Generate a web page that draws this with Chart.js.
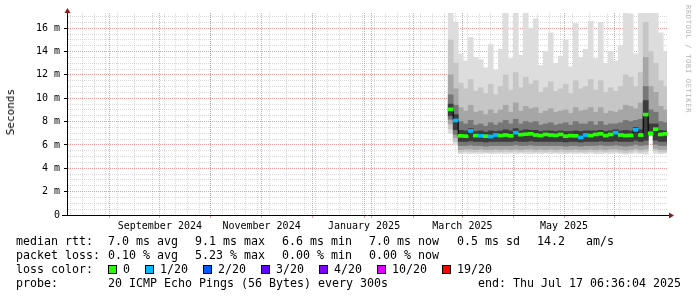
<!DOCTYPE html>
<html>
<head>
<meta charset="utf-8">
<script src="https://cdn.jsdelivr.net/npm/chart.js@4/dist/chart.umd.min.js"></script>
<style>
  html, body { margin: 0; padding: 0; background: #fff; }
  #wrap { position: relative; width: 697px; height: 297px; overflow: hidden; font-family: "DejaVu Sans Mono", monospace; }
  #graph { position: absolute; left: 0; top: 0; }
  .t { position: absolute; white-space: pre; font-size: 11.63px; line-height: 14px; color: #000; }
  .row { position: absolute; left: 108px; height: 14px; display: flex; align-items: center; }
  .box { width: 7px; height: 7px; border: 1px solid #000; margin-right: 6px; }
  .lab { font-size: 11.63px; line-height: 14px; margin-right: 15px; white-space: pre; }
  #ylab { position: absolute; left: 4px; top: 89px; writing-mode: vertical-rl; transform: rotate(180deg); font-size: 11px; line-height: 13px; }
  #mark { position: absolute; left: 684px; top: 5px; writing-mode: vertical-rl; font-size: 7px; line-height: 8px; letter-spacing: 0.7px; color: #b4b4b4; }
</style>
</head>
<body>
<div id="wrap">
  <canvas id="graph" width="697" height="297"></canvas>
  <div id="ylab">Seconds</div>
  <div id="mark">RRDTOOL / TOBI OETIKER</div>
  <div id="legend"></div>
</div>
<script>
// one column every 3 days, from the start of the data to the end of the graph
const dates = [
  '2025-03-09','2025-03-12','2025-03-15','2025-03-18','2025-03-21','2025-03-24','2025-03-27','2025-03-30',
  '2025-04-02','2025-04-05','2025-04-08','2025-04-11','2025-04-14','2025-04-17','2025-04-20','2025-04-23','2025-04-26','2025-04-29',
  '2025-05-02','2025-05-05','2025-05-08','2025-05-11','2025-05-14','2025-05-17','2025-05-20','2025-05-23','2025-05-26','2025-05-29',
  '2025-06-01','2025-06-04','2025-06-07','2025-06-10','2025-06-13','2025-06-16','2025-06-19','2025-06-22','2025-06-25','2025-06-28',
  '2025-07-01','2025-07-04','2025-07-07','2025-07-10','2025-07-13','2025-07-16'
];

// median rtt in ms
const median = [
  9.05, 8.1, 6.78, 6.75, 7.2, 6.8, 6.78, 6.75, 6.72, 6.85,
  6.8, 6.85, 6.78, 7.05, 6.88, 6.92, 6.95, 6.85, 6.8, 6.9,
  6.85, 6.82, 6.9, 6.75, 6.8, 6.78, 6.65, 6.85, 6.8, 6.9,
  6.95, 6.8, 6.9, 7.05, 6.85, 6.8, 6.82, 7.3, 6.85, 8.6,
  7.0, 7.35, 6.9, 6.95
];

// lost pings out of 20
const loss = [
  0, 1, 0, 0, 1, 0, 1, 0, 1, 1,
  0, 0, 0, 1, 0, 0, 0, 0, 0, 0,
  0, 0, 0, 0, 0, 0, 1, 1, 0, 0,
  0, 0, 0, 1, 0, 0, 0, 1, 0, 0,
  0, 0, 0, 0
];

// smoke: upper and lower edges of the ping spread, outermost first (ms)
const smokeHi1 = [
  17.5, 16.5, 13.8, 13.2, 15.2, 13.5, 13.3, 12.6, 14.6, 12.4,
  14.2, 17.5, 13.4, 17.5, 13.7, 17.5, 16.0, 16.8, 12.8, 14.0,
  15.6, 13.0, 13.6, 15.0, 12.7, 16.4, 13.5, 14.2, 16.6, 13.4,
  16.5, 13.0, 14.0, 13.2, 14.5, 17.5, 17.2, 13.8, 17.5, 17.5,
  17.5, 17.5, 15.6, 14.0
];
const smokeHi2 = [
  15.0, 13.0, 11.3, 10.8, 11.6, 10.6, 10.9, 10.4, 11.2, 10.3,
  11.0, 12.0, 10.7, 12.2, 10.9, 11.8, 11.2, 11.5, 10.5, 10.9,
  11.4, 10.6, 10.8, 11.2, 10.4, 11.5, 10.8, 11.0, 11.6, 10.7,
  11.5, 10.5, 10.9, 10.6, 11.0, 12.0, 11.8, 11.0, 12.2, 16.5,
  14.0, 13.0, 11.5, 11.0
];
const smokeHi3 = [
  12.0, 10.8, 9.2, 8.9, 9.4, 8.8, 8.9, 8.6, 9.0, 8.7,
  9.0, 9.4, 8.8, 9.6, 8.9, 9.3, 9.1, 9.2, 8.7, 8.9,
  9.1, 8.8, 8.9, 9.0, 8.7, 9.2, 8.9, 9.0, 9.2, 8.8,
  9.2, 8.7, 8.9, 8.8, 9.0, 9.4, 9.3, 9.1, 9.6, 13.5,
  11.0, 10.5, 9.3, 9.0
];
const smokeHi4 = [
  10.3, 9.4, 8.0, 7.8, 8.1, 7.7, 7.8, 7.6, 7.9, 7.7,
  7.9, 8.1, 7.8, 8.2, 7.8, 8.0, 7.9, 8.0, 7.7, 7.8,
  7.9, 7.7, 7.8, 7.9, 7.7, 8.0, 7.8, 7.8, 8.0, 7.7,
  8.0, 7.7, 7.8, 7.8, 7.9, 8.1, 8.0, 8.1, 8.2, 11.0,
  9.0, 8.8, 8.0, 7.9
];
const smokeHi5 = [
  9.5, 8.6, 7.25, 7.2, 7.4, 7.15, 7.2, 7.1, 7.2, 7.15,
  7.2, 7.3, 7.2, 7.4, 7.2, 7.3, 7.25, 7.25, 7.15, 7.2,
  7.2, 7.15, 7.2, 7.15, 7.15, 7.2, 7.15, 7.2, 7.2, 7.2,
  7.25, 7.15, 7.2, 7.3, 7.2, 7.25, 7.2, 7.5, 7.3, 9.8,
  7.8, 7.8, 7.25, 7.2
];
const smokeLo5 = [
  8.5, 7.3, 6.3, 6.3, 6.35, 6.3, 6.3, 6.25, 6.3, 6.3,
  6.3, 6.3, 6.3, 6.35, 6.3, 6.3, 6.35, 6.3, 6.3, 6.3,
  6.3, 6.3, 6.3, 6.25, 6.3, 6.3, 6.25, 6.3, 6.3, 6.3,
  6.35, 6.3, 6.3, 6.35, 6.3, 6.3, 6.3, 6.4, 6.3, 6.4,
  6.95, 6.4, 6.3, 6.3
];
const smokeLo4 = [
  8.2, 6.9, 5.95, 5.95, 6.0, 5.95, 5.95, 5.9, 5.95, 5.95,
  5.95, 5.95, 5.95, 6.0, 5.95, 5.95, 6.0, 5.95, 5.95, 5.95,
  5.95, 5.95, 5.95, 5.9, 5.95, 5.95, 5.9, 5.95, 5.95, 5.95,
  6.0, 5.95, 5.95, 6.0, 5.95, 5.9, 5.95, 6.05, 5.95, 6.0,
  6.9, 6.05, 5.95, 5.95
];
const smokeLo3 = [
  7.8, 6.6, 5.6, 5.65, 5.65, 5.6, 5.65, 5.6, 5.6, 5.65,
  5.6, 5.65, 5.6, 5.65, 5.6, 5.65, 5.65, 5.6, 5.65, 5.6,
  5.65, 5.6, 5.65, 5.6, 5.6, 5.65, 5.6, 5.6, 5.65, 5.6,
  5.65, 5.6, 5.65, 5.65, 5.6, 5.55, 5.6, 5.7, 5.6, 5.65,
  6.85, 5.7, 5.6, 5.6
];
const smokeLo2 = [
  7.4, 6.3, 5.4, 5.45, 5.45, 5.4, 5.45, 5.4, 5.4, 5.45,
  5.4, 5.45, 5.4, 5.45, 5.4, 5.45, 5.45, 5.4, 5.45, 5.4,
  5.45, 5.4, 5.45, 5.4, 5.4, 5.45, 5.4, 5.4, 5.45, 5.4,
  5.45, 5.4, 5.45, 5.45, 5.4, 5.35, 5.4, 5.5, 5.4, 5.45,
  6.8, 5.5, 5.4, 5.4
];
const smokeLo1 = [
  7.0, 6.0, 5.25, 5.3, 5.25, 5.3, 5.25, 5.3, 5.25, 5.25,
  5.3, 5.25, 5.3, 5.25, 5.3, 5.25, 5.25, 5.3, 5.25, 5.3,
  5.25, 5.3, 5.25, 5.25, 5.3, 5.25, 5.3, 5.25, 5.3, 5.25,
  5.25, 5.3, 5.25, 5.3, 5.25, 5.2, 5.25, 5.3, 5.25, 5.2,
  6.75, 5.3, 5.25, 5.3
];

const monthLabels = ['September 2024', 'November 2024', 'January 2025', 'March 2025', 'May 2025'];
const labelMonths = [[2024, 8], [2024, 10], [2025, 0], [2025, 2], [2025, 4]];

const lossLabels = ['0', '1/20', '2/20', '3/20', '4/20', '10/20', '19/20'];
const lossSteps = [0, 1, 2, 3, 4, 10, 19];
const lossColors = ['#26ff00', '#00b8ff', '#0059ff', '#5e00ff', '#7e00ff', '#dd00ff', '#ff0000'];

const rttStats = ['7.0 ms avg', '9.1 ms max', '6.6 ms min', '7.0 ms now', '0.5 ms sd', '14.2   am/s'];
const lossStats = ['0.10 % avg', '5.23 % max', '0.00 % min', '0.00 % now'];

// time axis in days since the left edge of the graph (360 days shown)
const DAY = 86400000;
const graphEnd = Date.UTC(2025, 6, 17, 6, 36, 4);
const graphStart = graphEnd - 360 * DAY;
const toDay = ms => (ms - graphStart) / DAY;
const xs = dates.map(d => toDay(Date.parse(d + 'T12:00:00Z')));

// x ticks: weekly minor lines, monthly major lines, labels in mid-month
const xTicks = [];
const monthStarts = [];
for (let k = 0; k < 12; k++) monthStarts.push(toDay(Date.UTC(2024, 7 + k, 1)));
for (let t = Date.UTC(2024, 6, 28); t < graphEnd; t += 7 * DAY) {
  const d = toDay(t);
  if (!monthStarts.some(m => Math.abs(m - d) < 0.01)) xTicks.push({ v: d, kind: 'week', label: '' });
}
monthStarts.forEach(d => xTicks.push({ v: d, kind: 'month', label: '' }));
labelMonths.forEach(([y, m], i) => {
  const mid = (toDay(Date.UTC(y, m, 1)) + toDay(Date.UTC(y, m + 1, 1))) / 2;
  xTicks.push({ v: mid, kind: 'label', label: monthLabels[i] });
});

const yTicks = [];
for (let v = 0; v <= 17; v += 0.5) yTicks.push(v);

const MINOR = 'rgba(160,160,160,0.4)';
const MAJOR = 'rgba(230,90,90,0.6)';

function lossColor(n) {
  let c = lossColors[0];
  lossSteps.forEach((s, i) => { if (n >= s) c = lossColors[i]; });
  return c;
}

const bands = [
  { lo: smokeLo1, hi: smokeHi1, color: '#dddddd' },
  { lo: smokeLo2, hi: smokeHi2, color: '#c6c6c6' },
  { lo: smokeLo3, hi: smokeHi3, color: '#a6a6a6' },
  { lo: smokeLo4, hi: smokeHi4, color: '#777777' },
  { lo: smokeLo5, hi: smokeHi5, color: '#3c3c3c' }
];

const datasets = [
  {
    type: 'bar',
    data: xs.map((x, i) => ({ x: x, y: [median[i] - 0.13, median[i] + 0.13] })),
    backgroundColor: loss.map(lossColor),
    barThickness: 5,
    grouped: false,
    order: 0
  },
  {
    type: 'line',
    data: xs.map((x, i) => ({ x: x, y: median[i] })),
    borderColor: '#000',
    borderWidth: 1,
    stepped: 'middle',
    pointRadius: 0,
    order: 1
  }
];
bands.forEach((b, k) => {
  datasets.push({
    type: 'bar',
    data: xs.map((x, i) => ({ x: x, y: [b.lo[i], b.hi[i]] })),
    backgroundColor: b.color,
    barThickness: 5,
    grouped: false,
    order: 6 - k
  });
});

const arrows = {
  id: 'arrows',
  afterDraw(chart) {
    const { ctx, chartArea: a } = chart;
    ctx.save();
    ctx.strokeStyle = '#000';
    ctx.lineWidth = 1;
    ctx.beginPath();
    ctx.moveTo(a.right, a.bottom + 0.5);
    ctx.lineTo(a.right + 3, a.bottom + 0.5);
    ctx.moveTo(a.left - 5, a.bottom + 0.5);
    ctx.lineTo(a.left, a.bottom + 0.5);
    ctx.stroke();
    ctx.fillStyle = '#8b1c1c';
    ctx.beginPath();
    ctx.moveTo(a.left - 2.5, a.top);
    ctx.lineTo(a.left + 3.5, a.top);
    ctx.lineTo(a.left + 0.5, a.top - 5);
    ctx.closePath();
    ctx.fill();
    ctx.beginPath();
    ctx.moveTo(a.right + 2, a.bottom - 2.5);
    ctx.lineTo(a.right + 2, a.bottom + 3.5);
    ctx.lineTo(a.right + 7, a.bottom + 0.5);
    ctx.closePath();
    ctx.fill();
    ctx.restore();
  }
};

Chart.defaults.font.family = '"DejaVu Sans Mono", monospace';
Chart.defaults.color = '#000';

new Chart(document.getElementById('graph'), {
  type: 'bar',
  data: { datasets: datasets },
  options: {
    responsive: false,
    animation: false,
    devicePixelRatio: 1,
    layout: { padding: { top: 13, right: 30, bottom: 62, left: 0 } },
    plugins: { legend: { display: false }, tooltip: { enabled: false } },
    scales: {
      x: {
        type: 'linear',
        min: 0,
        max: 360,
        offset: false,
        z: 1,
        afterBuildTicks: s => { s.ticks = xTicks.map(t => ({ value: t.v })); },
        afterFit: s => { s.height = 20; },
        grid: {
          color: c => {
            const t = xTicks[c.index];
            if (!t || t.kind === 'label') return 'rgba(0,0,0,0)';
            return t.kind === 'month' ? MAJOR : MINOR;
          },
          tickColor: c => {
            const t = xTicks[c.index];
            return t && t.kind === 'month' ? MAJOR : 'rgba(0,0,0,0)';
          },
          tickLength: 3,
          lineWidth: 1
        },
        border: { color: '#000', width: 1, dash: [1, 1] },
        ticks: {
          autoSkip: false,
          maxRotation: 0,
          minRotation: 0,
          padding: 2,
          font: { size: 10 },
          callback: (v, i) => xTicks[i] ? xTicks[i].label : ''
        }
      },
      y: {
        type: 'linear',
        min: 0,
        max: 17.3,
        z: 1,
        afterBuildTicks: s => { s.ticks = yTicks.map(v => ({ value: v })); },
        afterFit: s => { s.width = 67; },
        grid: {
          color: c => (yTicks[c.index] % 2 === 0 ? MAJOR : MINOR),
          tickColor: c => (yTicks[c.index] % 2 === 0 ? '#000' : 'rgba(0,0,0,0)'),
          tickLength: 3,
          lineWidth: 1
        },
        border: { color: '#000', width: 1, dash: [1, 1] },
        ticks: {
          autoSkip: false,
          padding: 4,
          font: { size: 10 },
          callback: (v, i) => {
            const val = yTicks[i];
            if (val % 2 !== 0) return '';
            return val === 0 ? '0' : val + ' m';
          }
        }
      }
    }
  },
  plugins: [arrows]
});

// legend lines under the graph
const legend = document.getElementById('legend');
function text(str, x, y) {
  const d = document.createElement('div');
  d.className = 't';
  d.style.left = x + 'px';
  d.style.top = y + 'px';
  d.textContent = str;
  legend.appendChild(d);
}
const statCols = [108, 195, 282, 369, 457, 537];
text('median rtt:', 16, 234);
rttStats.forEach((s, i) => text(s, statCols[i], 234));
text('packet loss:', 16, 248);
lossStats.forEach((s, i) => text(s, statCols[i], 248));
text('loss color:', 16, 262);
const row = document.createElement('div');
row.className = 'row';
row.style.top = '262px';
lossLabels.forEach((l, i) => {
  const b = document.createElement('span');
  b.className = 'box';
  b.style.background = lossColors[i];
  const s = document.createElement('span');
  s.className = 'lab';
  s.textContent = l;
  row.appendChild(b);
  row.appendChild(s);
});
legend.appendChild(row);
text('probe:', 16, 276);
text('20 ICMP Echo Pings (56 Bytes) every 300s', 108, 276);
const endLine = document.createElement('div');
endLine.className = 't';
endLine.style.right = '16px';
endLine.style.top = '276px';
endLine.textContent = 'end: Thu Jul 17 06:36:04 2025';
legend.appendChild(endLine);
</script>
</body>
</html>
